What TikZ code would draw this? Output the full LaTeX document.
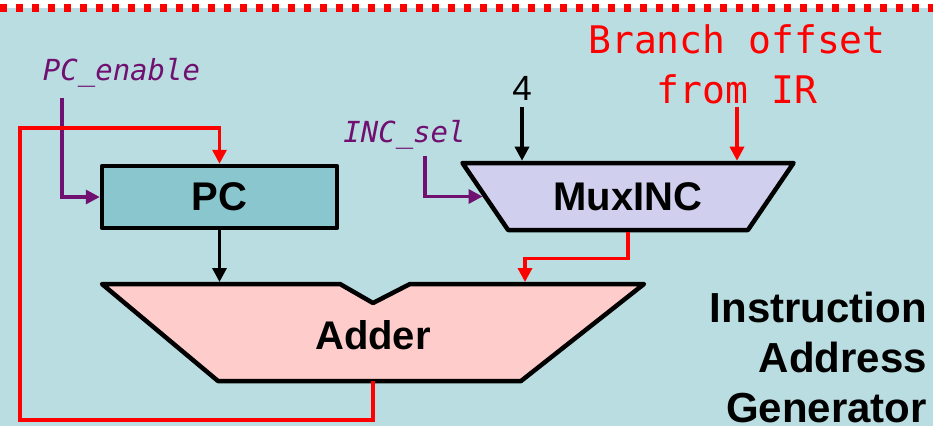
\documentclass[tikz,border=0pt]{standalone}
\usepackage{fontspec}
\setmainfont{Liberation Sans}
\setmonofont{DejaVu Sans Mono}
\usetikzlibrary{arrows.meta,shapes.geometric}
\definecolor{slidebg}{HTML}{B9DDE0}
\definecolor{pcfill}{HTML}{8AC6CD}
\definecolor{muxfill}{HTML}{D0D0EE}
\definecolor{adderfill}{HTML}{FFCCCC}
\definecolor{sigpurple}{HTML}{701070}
\begin{document}
\begin{tikzpicture}[x=1pt, y=-1pt,
        unit/.style={draw, line width=4.5pt, line join=round, inner sep=0pt,
                font=\fontsize{40}{44}\selectfont\bfseries},
        sig/.style={font=\fontsize{29}{32}\selectfont\ttfamily\itshape,
                text=sigpurple, inner sep=0pt},
        arrow/.style={-{Triangle[length=14pt,width=14pt]}, line width=3.3pt},
        ctl/.style={arrow, sigpurple},
        data/.style={arrow, red}
    ]
    \useasboundingbox (0,0) rectangle (933,426);
    \fill[white] (0,0) rectangle (933,426);
    \fill[slidebg] (0,7.5) rectangle (933,426);
    \draw[red, line width=8pt, dash pattern=on 7.3pt off 8.7pt] (0,8.2) -- (933,8.2);

    \node[unit, fill=pcfill, minimum width=235pt, minimum height=62pt] (pc) at (219.5,197) {PC};
    \node[unit, fill=muxfill, trapezium, shape border rotate=180, trapezium angle=45,
        trapezium stretches=true, minimum width=332pt, minimum height=67pt] (mux) at (628,196.5) {MuxINC};
    \draw[unit, fill=adderfill] (102,284) -- (340,284) -- (373,303) -- (410,284)
        -- (644,284) -- (521,381) -- (218,381) -- cycle;
    \node[font=\fontsize{40}{44}\selectfont\bfseries] (adder) at (373,335) {Adder};
    \coordinate (addpc) at (219.5,282);
    \coordinate (addmux) at (525,282);
    \coordinate (addout) at (373,381);

    \node[sig, anchor=base] (pcen) at (121.5,80) {PC\_enable};
    \node[sig, anchor=base] (incsel) at (404.5,142) {INC\_sel};
    \node[font=\fontsize{35}{40}\selectfont] (four) at (522,88) {4};
    \node[font=\fontsize{38}{50}\selectfont\ttfamily, text=red, align=center] (branch) at (737,64) {Branch offset\\from IR};
    \node[font=\fontsize{42}{50}\selectfont\bfseries, align=right, anchor=north east, inner sep=0pt]
        (title) at (927,292) {Instruction\\Address\\Generator};

    \coordinate (pcenin) at (62,98);
    \coordinate (incselin) at (425,156);
    \coordinate (fourin) at (522,107);
    \coordinate (offin) at (737,107);
    \coordinate (loopcorner) at (20,420);
    \coordinate (looptop) at (20,128);

    \draw[ctl] (pcenin) |- (pc.west);
    \draw[ctl] (incselin) |- (mux.west);
    \draw[arrow] (fourin) -- (fourin |- mux.north);
    \draw[data] (offin) -- (offin |- mux.north);
    \draw[arrow] (pc) -- (addpc);
    \draw[data] (mux.south) -- ++(0,26) -| (addmux);
    \draw[data] (addout) |- (loopcorner) -- (looptop) -| (pc.north);
\end{tikzpicture}
\end{document}
